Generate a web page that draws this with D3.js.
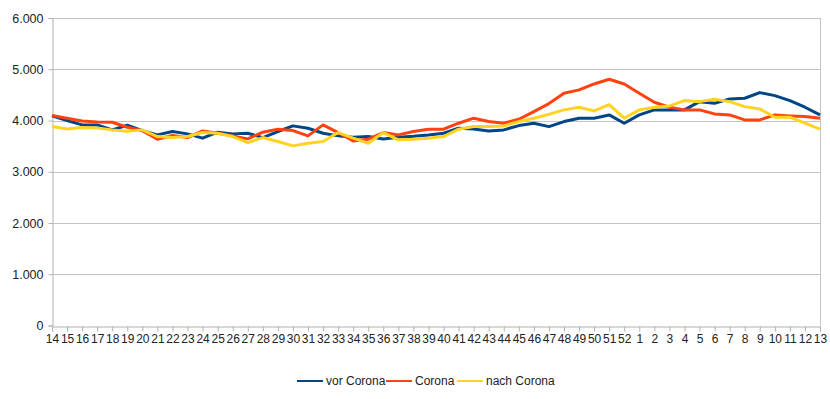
<!DOCTYPE html>
<html>
<head>
<meta charset="utf-8">
<script src="https://cdn.jsdelivr.net/npm/d3@7"></script>
<style>
  body { margin: 0; background: #fff; }
  svg { display: block; font-family: "Liberation Sans", Arial, sans-serif; }
</style>
</head>
<body>
<div id="chart"></div>
<script>
// Kalenderwochen (KW 14 bis KW 13 des Folgejahres)
const weeks = [14, 15, 16, 17, 18, 19, 20, 21, 22, 23, 24, 25, 26, 27, 28, 29, 30, 31, 32, 33,
  34, 35, 36, 37, 38, 39, 40, 41, 42, 43, 44, 45, 46, 47, 48, 49, 50, 51, 52,
  1, 2, 3, 4, 5, 6, 7, 8, 9, 10, 11, 12, 13];

const vorCorona = [4090, 4000, 3914, 3914, 3817, 3908, 3803, 3719, 3784, 3739, 3655, 3772, 3739,
  3752, 3667, 3785, 3895, 3849, 3752, 3700, 3674, 3687, 3641, 3674, 3693, 3719, 3752, 3849,
  3836, 3797, 3817, 3901, 3947, 3881, 3979, 4045, 4045, 4109, 3947, 4109, 4207, 4207, 4207,
  4368, 4335, 4421, 4434, 4544, 4485, 4388, 4259, 4109];

const corona = [4096, 4045, 3992, 3973, 3966, 3869, 3803, 3635, 3706, 3667, 3797, 3752, 3700,
  3642, 3772, 3830, 3803, 3700, 3914, 3765, 3602, 3635, 3765, 3719, 3784, 3830, 3830, 3947,
  4045, 3979, 3947, 4025, 4174, 4330, 4532, 4597, 4713, 4805, 4713, 4532, 4357, 4259, 4207,
  4207, 4129, 4109, 4012, 4012, 4109, 4090, 4077, 4045];

const nachCorona = [3881, 3836, 3862, 3856, 3817, 3791, 3817, 3687, 3667, 3687, 3765, 3752, 3687,
  3569, 3667, 3589, 3505, 3557, 3589, 3765, 3655, 3557, 3765, 3622, 3635, 3655, 3687, 3830,
  3881, 3881, 3895, 3979, 4045, 4120, 4207, 4259, 4187, 4310, 4045, 4207, 4259, 4285, 4388,
  4368, 4415, 4368, 4271, 4226, 4064, 4064, 3947, 3830];

const yTicks = [0, 1000, 2000, 3000, 4000, 5000, 6000];

const series = [
  { name: 'vor Corona', values: vorCorona, color: '#004586' },
  { name: 'Corona', values: corona, color: '#ff420e' },
  { name: 'nach Corona', values: nachCorona, color: '#ffd320' }
];

const width = 830, height = 399;
const margin = { top: 18, right: 10, bottom: 74, left: 52 };

const svg = d3.select('#chart').append('svg')
  .attr('width', width)
  .attr('height', height);

// index-based scale, because week numbers repeat after 52
const x = d3.scalePoint()
  .domain(d3.range(weeks.length))
  .range([margin.left, width - margin.right]);

const y = d3.scaleLinear()
  .domain([0, 6000])
  .range([height - margin.bottom + 0.5, margin.top]);

const fmt = d3.formatLocale({ decimal: ',', thousands: '.', grouping: [3], currency: ['', ' €'] }).format(',d');

// gridlines
svg.append('g')
  .selectAll('line')
  .data(yTicks.filter(d => d > 0))
  .join('line')
  .attr('x1', margin.left)
  .attr('x2', width - margin.right)
  .attr('y1', d => Math.round(y(d)) + 0.5)
  .attr('y2', d => Math.round(y(d)) + 0.5)
  .attr('stroke', '#c4c4c4');

// right border of plot area
svg.append('line')
  .attr('x1', width - margin.right + 0.5)
  .attr('x2', width - margin.right + 0.5)
  .attr('y1', y(6000))
  .attr('y2', y(0))
  .attr('stroke', '#c4c4c4');

// y axis
const yAxis = svg.append('g')
  .attr('transform', `translate(${margin.left + 0.5},0)`)
  .call(d3.axisLeft(y).tickValues(yTicks).tickFormat(fmt).tickSize(4).tickPadding(5));
yAxis.select('.domain').attr('stroke', '#b0b0b0');
yAxis.selectAll('.tick line').attr('stroke', '#b0b0b0');
yAxis.selectAll('text').attr('font-size', 12.5).attr('fill', '#222');

// x axis
const xAxis = svg.append('g')
  .attr('transform', `translate(0,${Math.round(y(0)) + 0.5})`)
  .call(d3.axisBottom(x).tickFormat(i => weeks[i]).tickSizeOuter(0).tickSize(5).tickPadding(3));
xAxis.select('.domain').attr('stroke', '#b0b0b0');
xAxis.selectAll('.tick line').attr('stroke', '#b0b0b0');
xAxis.selectAll('text').attr('font-size', 12).attr('fill', '#222');

// lines
const line = d3.line()
  .x((d, i) => x(i))
  .y(d => y(d));

svg.append('g')
  .selectAll('path')
  .data(series)
  .join('path')
  .attr('fill', 'none')
  .attr('stroke', d => d.color)
  .attr('stroke-width', 3)
  .attr('stroke-linejoin', 'round')
  .attr('d', d => line(d.values));

// legend
const legendX = [297, 386, 457];
const legend = svg.append('g')
  .selectAll('g')
  .data(series)
  .join('g')
  .attr('transform', (d, i) => `translate(${legendX[i]},381)`);

legend.append('line')
  .attr('x1', 0)
  .attr('x2', 26)
  .attr('stroke', d => d.color)
  .attr('stroke-width', 2);

legend.append('text')
  .attr('x', 29)
  .attr('dy', '0.35em')
  .attr('font-size', 12)
  .attr('fill', '#222')
  .text(d => d.name);
</script>
</body>
</html>
